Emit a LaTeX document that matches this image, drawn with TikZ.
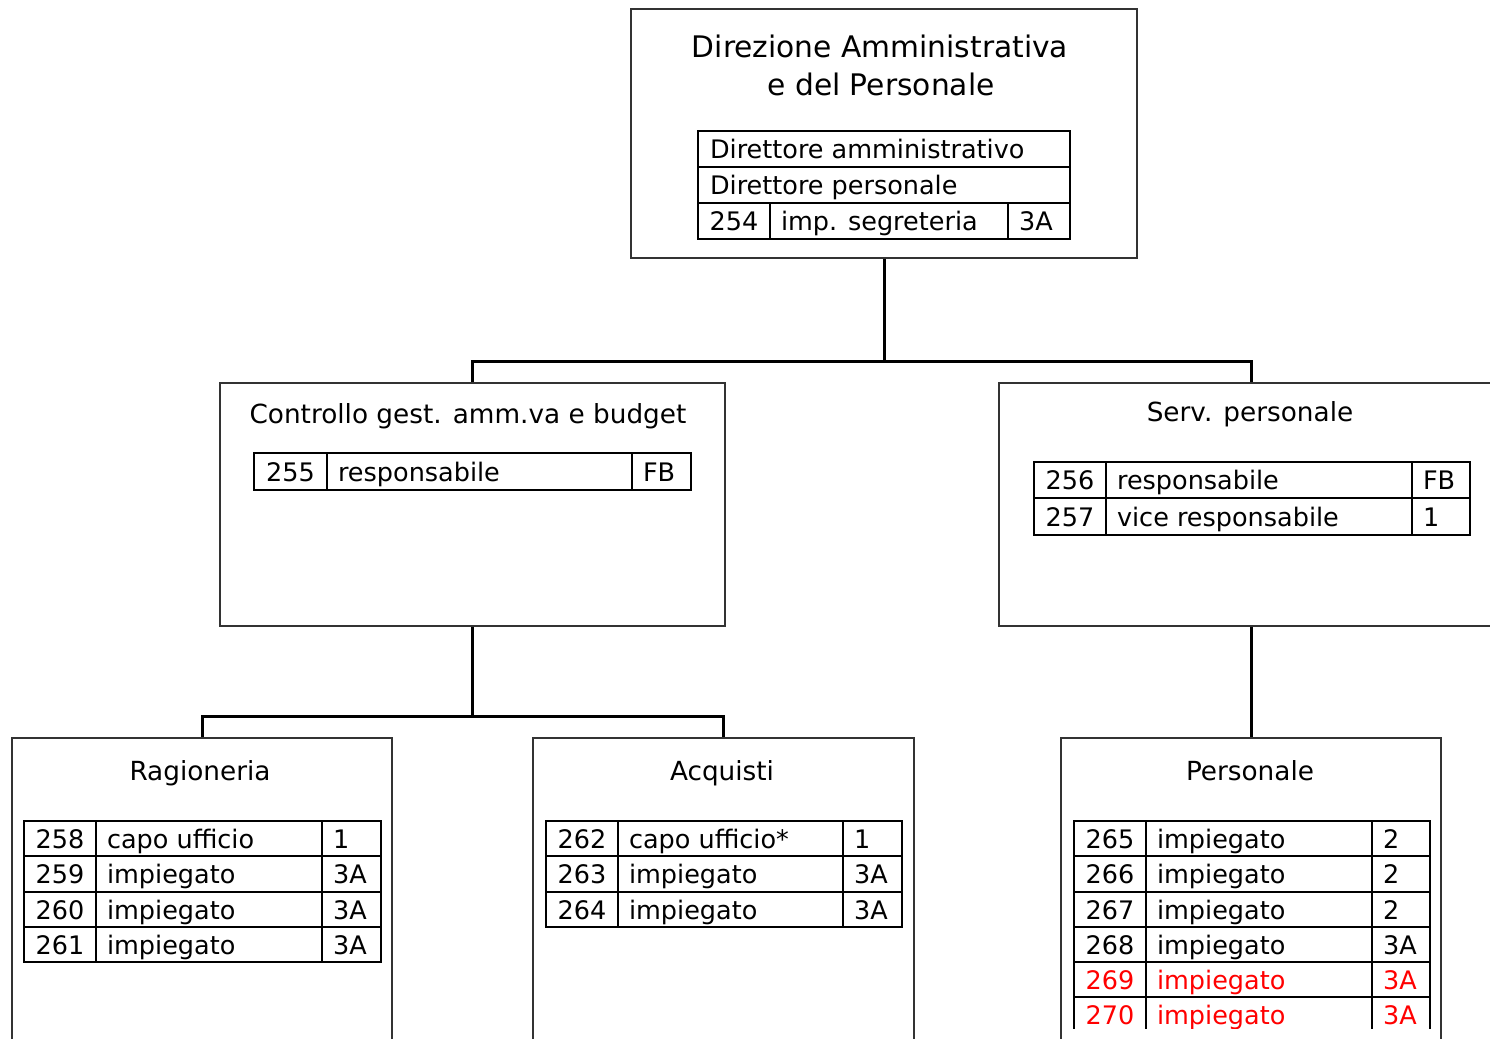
\documentclass[tikz,border=0pt]{standalone}
\usepackage{fontspec}
\setmainfont{DejaVu Sans}
\usetikzlibrary{fit}
\tikzset{
  box/.style={draw=black!80, line width=0.8pt, inner sep=0pt},
  cell/.style={draw=black, line width=1.35pt, inner sep=0pt},
  ttxt/.style={inner sep=0pt, font=\fontsize{12.75pt}{15pt}\selectfont},
  btitle/.style={inner sep=0pt, anchor=base, font=\fontsize{13.15pt}{16pt}\selectfont},
  mtitle/.style={inner sep=0pt, anchor=base, font=\fontsize{14.85pt}{18pt}\selectfont},
  conn/.style={draw=black, line width=1.5pt},
}
% one table row: #1 id, #2 top, #3 bottom, #4 number, #5 role, #6 grade, #7 colour
\newcommand\trow[7]{%
  \node[cell, fit={(\cA,#2)(\cB,#3)}] (#1n) {};
  \node[cell, fit={(\cB,#2)(\cC,#3)}] (#1p) {};
  \node[cell, fit={(\cC,#2)(\cD,#3)}] (#1g) {};
  \node[ttxt, text=#7, anchor=base] (#1nt) at ([yshift=-4.75pt]#1n.center) {#4};
  \node[ttxt, text=#7, anchor=base west] (#1pt) at ([xshift=6pt,yshift=-4.75pt]#1p.west) {#5};
  \node[ttxt, text=#7, anchor=base west] (#1gt) at ([xshift=6pt,yshift=-4.75pt]#1g.west) {#6};
}
\begin{document}
\begin{tikzpicture}[x=0.5pt, y=-0.5pt]
\clip (0,0) rectangle (1490,1039);
\fill[white] (0,0) rectangle (1490,1039);

% ---------- boxes ----------
\node[box, fit={(631,9)(1137,258)}] (dir) {};
\node[box, fit={(220,383)(725,626)}] (ctl) {};
\node[box, fit={(999,383)(1503,626)}] (serv) {};
\node[box, fit={(12,738)(392,1060)}] (rag) {};
\node[box, fit={(533,738)(914,1060)}] (acq) {};
\node[box, fit={(1061,738)(1441,1060)}] (pers) {};

% ---------- connectors ----------
\coordinate (j1) at (884,361);
\coordinate (j2) at (472.5,716);
\draw[conn] (dir.south) -- (j1);
\draw[conn] (ctl.north) |- (j1) -| (serv.north);
\draw[conn] (ctl.south) -- (j2);
\draw[conn] (rag.north) |- (j2) -| (acq.north);
\draw[conn] (serv.south) -- (serv.south |- pers.north);

% ---------- Direzione ----------
\node[mtitle] (dirt1) at (880,57) {Direzione Amministrativa};
\node[mtitle] (dirt2) at (881,95) {e del Personale};
\node[cell, fit={(698,131)(1070,167)}] (da) {};
\node[ttxt, anchor=base west] (dat) at ([xshift=6.5pt,yshift=-4.75pt]da.west) {Direttore amministrativo};
\node[cell, fit={(698,167)(1070,203)}] (dp) {};
\node[ttxt, anchor=base west] (dpt) at ([xshift=6.5pt,yshift=-4.75pt]dp.west) {Direttore personale};
\def\cA{698}\def\cB{770}\def\cC{1008}\def\cD{1070}
\trow{r254}{203}{239}{254}{imp. segreteria}{3A}{black}

% ---------- Controllo ----------
\node[btitle] (ctlt) at (468,423) {Controllo gest. amm.va e budget};
\def\cA{254}\def\cB{327}\def\cC{632}\def\cD{691}
\trow{r255}{453}{490}{255}{responsabile}{FB}{black}

% ---------- Serv. personale ----------
\node[btitle] (servt) at (1250,421) {Serv. personale};
\def\cA{1034}\def\cB{1106}\def\cC{1412}\def\cD{1470}
\trow{r256}{462}{498}{256}{responsabile}{FB}{black}
\trow{r257}{498}{535}{257}{vice responsabile}{1}{black}

% ---------- Ragioneria ----------
\node[btitle] (ragt) at (200,780) {Ragioneria};
\def\cA{24}\def\cB{96}\def\cC{322}\def\cD{381}
\trow{r258}{821}{856}{258}{capo ufficio}{1}{black}
\trow{r259}{856}{892}{259}{impiegato}{3A}{black}
\trow{r260}{892}{927}{260}{impiegato}{3A}{black}
\trow{r261}{927}{962}{261}{impiegato}{3A}{black}

% ---------- Acquisti ----------
\node[btitle] (acqt) at (722,780) {Acquisti};
\def\cA{546}\def\cB{618}\def\cC{843}\def\cD{902}
\trow{r262}{821}{856}{262}{capo ufficio*}{1}{black}
\trow{r263}{856}{892}{263}{impiegato}{3A}{black}
\trow{r264}{892}{927}{264}{impiegato}{3A}{black}

% ---------- Personale ----------
\node[btitle] (perst) at (1250,780) {Personale};
\def\cA{1074}\def\cB{1146}\def\cC{1372}\def\cD{1430}
\trow{r265}{821}{856}{265}{impiegato}{2}{black}
\trow{r266}{856}{892}{266}{impiegato}{2}{black}
\trow{r267}{892}{927}{267}{impiegato}{2}{black}
\trow{r268}{927}{962}{268}{impiegato}{3A}{black}
\trow{r269}{962}{997}{269}{impiegato}{3A}{red}
\begin{scope}
\clip (1060,990) rectangle (1445,1028);
\trow{r270}{997}{1033}{270}{impiegato}{3A}{red}
\end{scope}
\end{tikzpicture}
\end{document}
